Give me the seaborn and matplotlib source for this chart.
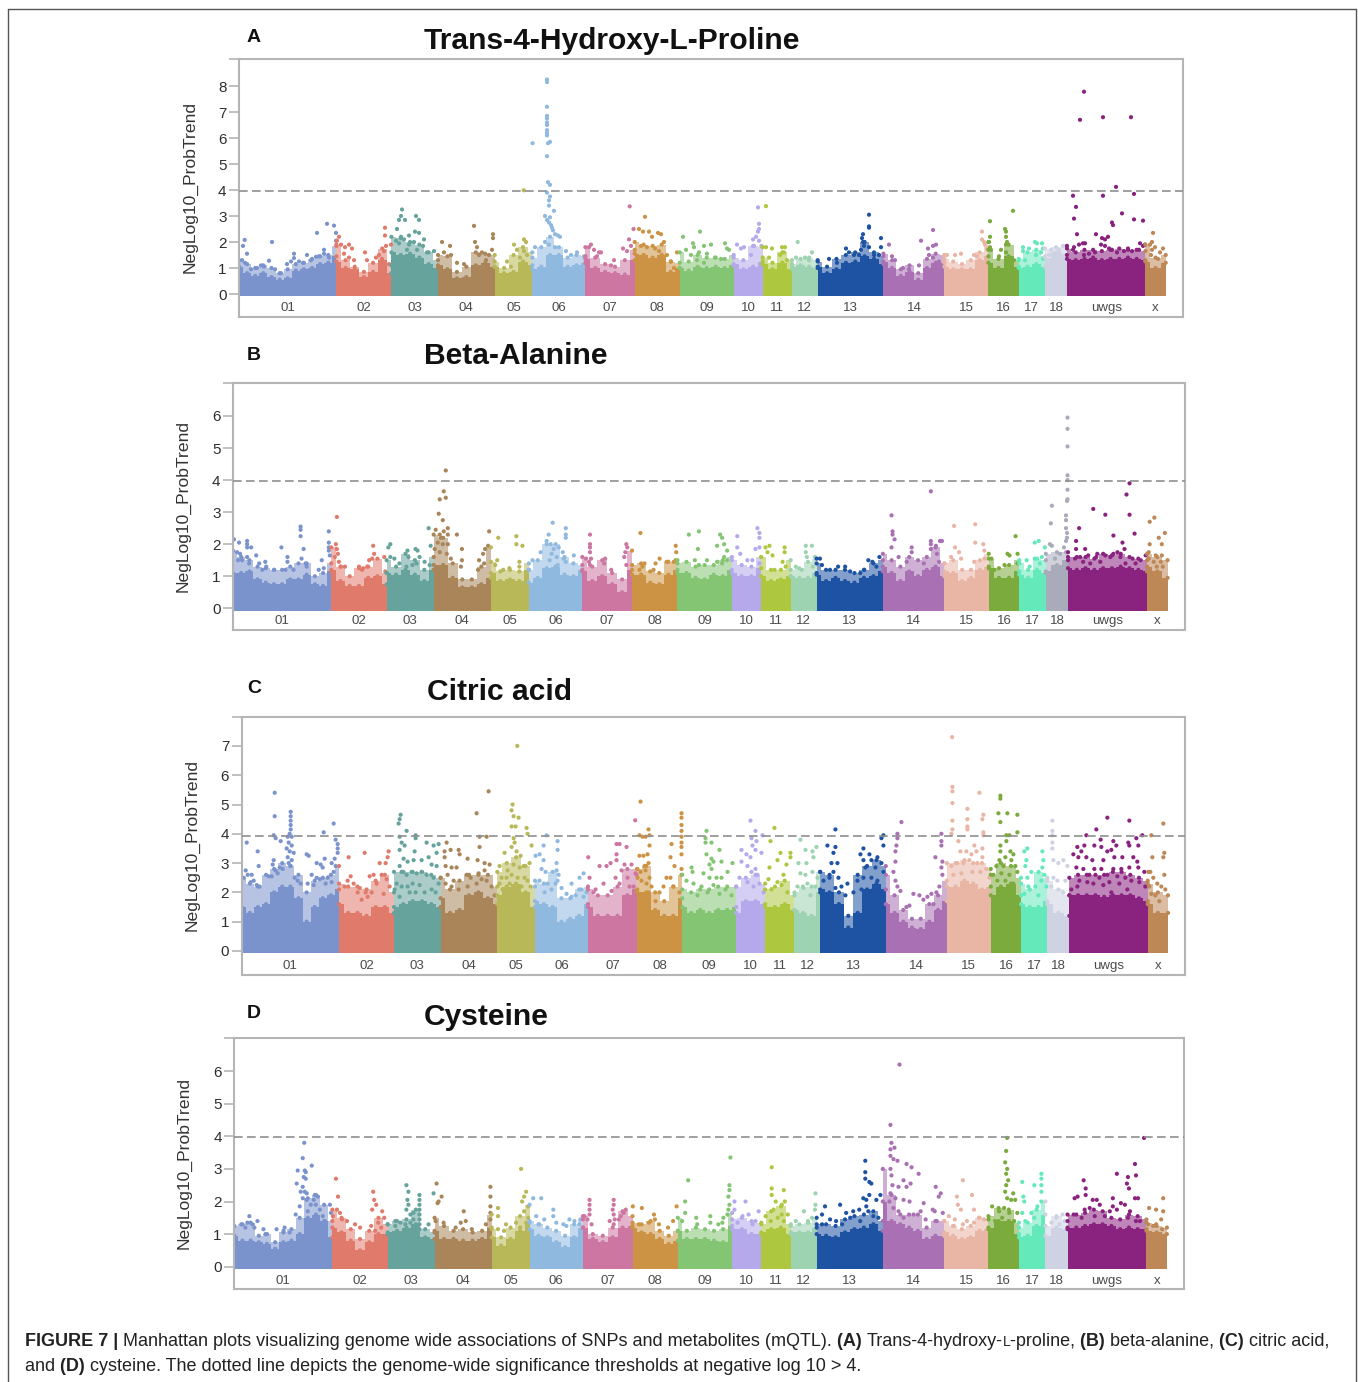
import numpy as np
import pandas as pd
import matplotlib
matplotlib.use("Agg")
import matplotlib.pyplot as plt
from matplotlib.lines import Line2D
import seaborn as sns

sns.set_theme(style="white")
plt.rcParams['font.family'] = ['Liberation Sans', 'DejaVu Sans']

W, H = 1358, 1382
chroms = ["01","02","03","04","05","06","07","08","09","10","11","12","13","14","15","16","17","18","uwgs","x"]
chrom_starts = [0,97.4,152.4,199,255.7,293.4,346.4,395.7,440.7,494.7,523.7,553,578.7,644.4,705.4,749.4,779.7,806,828,906.4]
genome_end = 926.7
base_colors = ["#7b93cc","#e07b6c","#66a39d","#a98559","#b8b858","#90b9e0","#cc76a1","#cc9344","#84c573","#b5a9ec",
               "#adc73f","#9dd3b1","#1e53a4","#a970b3","#e9b5a5","#7aab3c","#64e9bb","#cfd2e3","#8a2380","#bd8756"]

# Height of the solid mass of SNPs along each chromosome
A_env = [[1.05,0.8,0.7,0.8,0.65,0.55,0.6,0.9,0.95,1.0,1.15,1.2,1.45],[1.25,1.0,0.95,0.65,0.85,1.3,0.8],[1.6,1.5,1.55,1.4,1.15,1.0],
 [1.1,0.95,0.6,0.65,1.1,1.2,1.05],[1.05,0.8,0.85,1.25,1.1],[0.95,1.05,1.5,1.5,1.05,1.1,1.2],[1.35,1.0,0.85,0.8,0.75,1.3],
 [1.55,1.5,1.4,1.5,0.85,1.0],[1.0,0.9,1.05,1.0,1.05,1.0,1.1],[1.15,0.95,1.05,1.25],[1.15,0.95,1.2,0.95],[1.05,1.1,1.05,1.0],
 [1.05,0.8,0.95,1.2,1.25,1.45,1.35,1.15],[1.25,1.0,0.7,0.85,0.55,1.0,1.2,1.2],[1.05,0.95,0.95,0.95,1.3,1.45],[1.2,1.0,1.45,1.05],
 [1.0,1.05,1.15,1.05],[1.4,1.6,1.5],[1.35,1.3,1.35,1.4,1.3,1.35,1.35,1.4,1.35,1.3],[1.25,1.0,1.2]]
B_env = [[1.1,1.1,1.15,0.9,0.8,0.75,0.75,0.9,0.9,1.05,0.75,0.7,1.15],[1.2,0.85,0.7,0.7,0.95,1.0,0.75],[1.1,1.05,1.2,1.05,0.85,1.2],
 [1.35,1.35,0.95,0.65,0.65,0.75,0.95],[1.1,0.85,0.9,0.85,1.2],[0.8,0.95,1.25,1.3,1.05,1.0,1.2],[1.15,0.85,1.0,0.75,0.5,1.2],
 [1.05,1.05,0.8,0.75,1.05,1.2],[1.1,1.1,0.95,0.9,1.05,1.0,1.2],[1.1,1.0,1.0,1.25],[1.0,0.85,0.9,1.0],[1.0,0.95,0.95,1.1],
 [1.05,0.85,0.95,0.85,0.8,0.95,1.0,1.15],[1.3,1.1,0.85,1.15,1.0,1.2,1.3,1.0],[1.15,1.1,0.85,0.95,1.2,1.3],[1.25,0.95,0.95,1.15],
 [1.05,0.95,1.2,1.1],[1.15,1.35,1.5],[1.25,1.2,1.25,1.2,1.25,1.25,1.3,1.25,1.2,1.15],[1.3,1.15,0.95]]
C_env = [[1.5,1.3,1.5,1.6,2.0,2.2,2.2,1.8,1.0,1.5,1.8,1.9,2.1],[1.6,1.3,1.3,1.2,1.5,1.5,1.3],[1.5,1.6,1.7,1.7,1.6,1.5],
 [1.8,1.3,1.4,1.9,2.0,1.8,1.6],[1.9,2.2,2.3,2.0,1.5],[1.7,1.6,1.5,1.0,1.1,1.2,1.6],[1.5,1.2,1.2,1.2,1.9,2.1],
 [2.0,2.0,1.4,1.2,1.2,1.8],[1.5,1.3,1.4,1.3,1.4,1.4,1.5],[1.3,1.7,1.7,1.6],[1.5,1.5,1.6,1.4],[1.4,1.3,1.2,2.0],
 [2.1,2.0,1.6,0.8,1.3,2.1,2.3,2.1],[1.6,1.3,1.0,0.8,0.75,1.0,1.4,1.7],[2.2,2.2,2.4,2.3,2.1,2.2],[1.9,2.2,2.3,1.9],
 [1.6,1.5,1.5,1.7],[1.6,1.3,1.2],[1.9,1.9,1.9,1.9,1.85,1.9,1.9,1.9,1.8,1.7],[1.6,1.3,1.3]]
D_env = [[0.95,0.8,0.8,0.75,0.7,0.55,0.75,0.8,1.0,1.5,1.6,1.4,0.9],[1.2,1.05,0.8,0.5,0.75,1.0,1.0],[1.05,1.1,1.2,1.3,0.9,0.85],
 [1.1,0.85,0.85,0.8,0.8,0.85,1.2],[0.9,0.65,0.85,1.1,1.35],[1.15,0.95,0.9,0.75,0.6,0.9,1.2],[1.2,0.85,0.75,0.9,1.2,1.25],
 [1.2,1.05,1.0,0.85,0.7,0.8],[1.1,0.85,0.85,0.85,0.8,0.75,1.25],[1.15,1.15,1.0,1.0],[1.05,1.15,1.2,1.0],[1.05,1.05,1.05,1.2],
 [1.0,0.95,0.9,1.05,1.15,1.2,1.3,1.1],[2.0,1.4,1.3,1.2,1.1,0.85,0.95,0.95],[1.05,0.95,0.85,0.9,1.1,1.15],[1.2,1.4,1.4,1.0],
 [0.9,0.95,1.25,1.6],[0.95,1.2,1.15],[1.2,1.2,1.25,1.3,1.3,1.25,1.15,1.2,1.15,1.15],[1.1,1.05,1.0]]

# Top of the speckled zone above the solid mass
A_up = [[1.3,1.15,1.0,1.1,1.0,0.8,0.95,1.15,1.2,1.35,1.45,1.5,1.85],[1.9,1.3,1.05,0.85,1.2,1.75,1.1],[2.2,2.15,2.0,1.9,1.6,1.3],
 [1.5,1.45,0.85,1.05,1.6,1.55,1.5],[1.25,1.0,1.5,1.8,1.6],[1.4,1.8,2.2,1.8,1.4,1.5,1.45],[1.8,1.4,1.15,1.05,1.3,1.7],
 [2.0,1.9,1.85,1.9,1.25,1.2],[1.6,1.25,1.5,1.4,1.4,1.35,1.5],[1.4,1.3,1.85,1.8],[1.4,1.2,1.6,1.3],[1.15,1.35,1.4,1.3],
 [1.25,1.05,1.35,1.5,1.6,2.0,1.6,1.45],[1.55,1.3,0.95,1.1,0.8,1.35,1.55,1.5],[1.35,1.25,1.15,1.3,1.6,2.0],[1.7,1.35,1.9,1.3],
 [1.35,1.6,1.7,1.45],[1.75,1.8,1.85],[1.75,1.6,1.7,1.7,1.65,1.7,1.75,1.7,1.7,1.65],[1.9,1.4,1.5]]
B_up = [[1.8,1.6,1.5,1.3,1.25,1.2,1.2,1.3,1.4,1.4,1.0,1.1,1.4],[1.9,1.3,1.0,1.25,1.3,1.55,1.1],[1.5,1.3,1.7,1.5,1.2,1.6],
 [2.3,2.2,1.4,0.9,0.9,1.3,1.9],[1.45,1.15,1.2,1.15,1.4],[1.2,1.5,2.0,2.0,1.6,1.4,1.35],[1.6,1.3,1.5,1.1,0.9,1.8],
 [1.35,1.4,1.15,1.1,1.45,1.5],[1.4,1.45,1.3,1.35,1.35,1.5,1.6],[1.5,1.35,1.3,1.6],[1.6,1.2,1.2,1.5],[1.2,1.25,1.45,1.55],
 [1.4,1.2,1.2,1.2,1.1,1.2,1.4,1.5],[1.7,1.5,1.3,1.6,1.5,1.6,1.9,1.4],[1.4,1.5,1.2,1.2,1.5,1.7],[1.55,1.25,1.35,1.5],
 [1.4,1.2,1.55,1.5],[1.7,1.75,1.75],[1.6,1.6,1.6,1.55,1.7,1.65,1.7,1.6,1.55,1.5],[1.7,1.6,1.5]]
C_up = [[2.5,2.3,2.2,2.6,2.8,3.0,2.9,2.6,2.0,2.4,2.5,2.6,2.9],[2.3,2.2,2.2,2.1,2.4,2.6,2.0],[2.7,2.7,2.7,2.7,2.6,2.5],
 [2.5,2.1,2.4,2.6,2.6,2.6,2.2],[2.7,3.0,3.2,2.9,2.2],[2.4,2.3,2.7,1.8,1.8,2.1,2.2],[2.1,1.9,1.9,2.2,2.8,2.8],
 [2.8,2.9,2.0,1.7,2.2,2.6],[2.1,2.0,2.1,2.1,2.2,2.2,2.2],[2.2,2.5,2.6,2.3],[2.1,2.2,2.4,1.9],[2.0,2.2,2.2,2.7],
 [2.7,2.6,2.0,1.2,2.6,2.9,3.1,2.9],[2.6,1.9,1.4,1.1,1.1,1.6,1.9,2.4],[3.0,3.0,3.1,3.0,3.0,2.8],[2.6,3.0,2.9,2.5],
 [2.3,2.1,2.7,2.5],[2.4,2.1,1.9],[2.5,2.6,2.6,2.6,2.6,2.7,2.7,2.6,2.5,2.4],[2.3,2.0,1.9]]
D_up = [[1.25,1.3,1.35,0.95,1.0,0.75,1.05,1.15,1.5,2.1,2.2,1.9,1.4],[1.75,1.5,1.15,0.85,1.1,1.5,1.3],[1.3,1.4,1.45,1.75,1.15,1.05],
 [1.5,1.25,1.1,1.15,1.05,1.1,1.6],[1.15,0.9,1.2,1.55,1.9],[1.4,1.3,1.2,1.1,0.95,1.3,1.45],[1.55,1.0,0.95,1.2,1.7,1.55],
 [1.35,1.3,1.4,1.1,0.95,1.1],[1.5,1.1,1.2,1.15,1.1,1.15,1.65],[1.45,1.5,1.4,1.35],[1.3,1.7,1.85,1.3],[1.25,1.3,1.35,1.5],
 [1.3,1.3,1.25,1.45,1.55,1.6,1.7,1.4],[3.0,2.2,1.6,1.6,1.6,1.2,1.4,1.4],[1.4,1.25,1.15,1.25,1.5,1.45],[1.55,1.8,1.75,1.35],
 [1.2,1.35,1.75,2.0],[1.25,1.55,1.4],[1.6,1.6,1.65,1.75,1.7,1.5,1.45,1.6,1.55,1.45],[1.35,1.25,1.2]]

# Individual SNPs above the solid mass: (genome position, -log10 p)
A_pts = [(5.7,2.08),(4,1.85),(8,1.55),(33,2.0),(30,1.28),(55,1.55),(55,1.38),(68,1.5),(78,2.35),(88,2.7),(95,2.63),(97,2.35),(97,2.05),(85,1.7),(85,1.55),(77,1.43),(3,1.3),(22,1.1),(25,1.05),(48,1.15),(52,1.25),(60,1.25),(64,1.2),(72,1.3),(80,1.45),(90,1.4),(6,1.2),(12,0.95),(18,1.0),(36,0.95),(42,0.8),
 (100,2.2),(98,2.05),(102,1.9),(106,1.8),(110,1.9),(113,1.75),(105,1.55),(110,1.4),(115,1.3),(126,1.6),(128,1.3),(146,2.55),(146,2.25),(147,1.85),(140,1.5),(143,1.35),(150,1.15),(137,1.4),(145,1.65),(152,1.9),
 (158,2.5),(160,2.85),(166,2.85),(162,3.0),(163,3.25),(177,3.0),(180,2.85),(176,2.4),(180,2.35),(162,2.2),(165,2.1),(170,2.25),(157,2.05),(160,1.95),(170,1.9),(175,2.0),(185,2.1),(184,1.85),(188,1.6),(195,1.65),(168,1.7),(178,1.7),
 (203,2.0),(211,1.85),(235,2.62),(236,2.0),(254,2.3),(254,2.15),(238,1.8),(243,1.6),(250,1.5),(205,1.6),(212,1.5),(218,1.2),(225,1.15),(247,1.3),(240,1.5),(253,1.7),
 (275,1.9),(285,2.1),(287,2.0),(268,1.25),(278,1.7),(285,1.65),(272,1.05),(284.7,3.99),(288,1.5),(281,1.4),
 (293.6,5.8),(308,8.25),(308,8.15),(308,7.2),(308,6.85),(308,6.75),(308,6.6),(308,6.5),(308,6.3),(308,6.2),(308,6.1),(311,5.85),(309,5.8),(308,5.3),(309,4.3),(311,4.2),(308,3.9),(311,3.75),(310,3.6),(310,3.4),(315,3.2),(306,3.0),(311,2.95),(308,2.85),(310,2.75),(312,2.65),(313,2.55),(314,2.45),(316,2.3),(319,2.25),(321,2.2),(306,2.0),(310,1.9),(316,1.8),(296,1.8),(327,1.65),(338,1.6),(332,1.5),(345,1.45),
 (352,1.9),(350,1.8),(355,1.7),(360,1.6),(362,1.6),(358,1.45),(390.7,3.37),(394.5,2.5),(390,2.1),(388,1.65),(392,1.85),(384,1.75),(375,1.3),(372,1.1),
 (406,2.97),(400,2.5),(404,2.4),(410,2.4),(413,2.2),(419,2.35),(422,2.3),(425,2.0),(402,1.85),(408,1.8),(416,1.75),(420,1.65),(428,1.5),(432,1.25),(435,1.0),(438,1.6),
 (461,2.4),(444,2.2),(454,1.95),(455,1.8),(447,1.7),(465,1.85),(472,1.9),(486,1.95),(488,1.75),(490,1.7),(460,1.6),(468,1.55),(476,1.4),(482,1.35),(452,1.5),(458,1.3),(465,1.2),
 (519,3.33),(520,2.7),(520,2.5),(519,2.4),(517,2.2),(514,2.1),(520,2.05),(515,1.85),(505,1.8),(498,1.9),(502,1.75),(512,1.5),(522.5,1.85),
 (527,3.38),(527,1.8),(533,1.75),(546,1.8),(543,1.8),(545,1.6),(541,1.5),(548,1.3),(530,1.4),
 (558.7,2.0),(573,1.6),(557,1.4),(566,1.4),(570,1.3),
 (630,3.05),(630,2.6),(630,2.55),(642,2.15),(624,2.3),(623,2.15),(624,2.0),(625,1.85),(622,1.7),(630,1.8),(642,1.8),(607,1.75),(610,1.6),(620,1.5),(635,1.5),(640,1.5),(590,1.35),(598,1.2),(615,1.5),
 (650,1.9),(694,2.46),(682,2.05),(689,1.75),(694,1.85),(697,1.9),(690,1.5),(694,1.4),(653,1.45),(656,1.3),(664,1.0),(670,0.95),(680,1.1),(700,1.25),
 (743,2.4),(743,2.1),(745,2.0),(746,1.9),(748,1.75),(735,1.5),(738,1.45),(722,1.55),(708,1.5),(716,1.5),
 (751,2.8),(774,3.2),(751,2.2),(750,2.0),(751,1.8),(766,2.5),(767,2.4),(767,2.2),(768,2.0),(767,1.9),(762,1.7),(767,1.6),(760,1.45),(752,1.7),(775,1.3),
 (784,1.8),(784,1.65),(796,2.0),(798,1.95),(803,1.95),(804,1.75),(790,1.75),(802,1.6),(797,1.5),(804,1.35),(786,1.3),
 (812,1.7),(816,1.55),(824,1.85),(827,1.85),(820,1.7),(810,1.5),(826,1.5),
 (845,7.78),(841,6.7),(864,6.8),(892,6.8),(877,4.12),(834,3.78),(864,3.78),(895,3.85),(837,3.35),(883,3.1),(835,2.9),(895,2.87),(904,2.82),(873,2.75),(874,2.65),(838,2.3),(857,2.3),(869,2.2),(863,2.15),(866,2.1),(844,1.95),(846,1.95),(840,1.9),(835,1.8),(834,1.7),(862,1.9),(866,1.85),(870,1.75),(873,1.7),(885,1.65),(889,1.75),(893,1.65),(901,1.95),(904,1.85),(906,1.9),(900,1.7),(878,1.6),(850,1.55),(856,1.6),(845,1.5),
 (914,2.35),(913,2.0),(911,1.9),(913,1.7),(916,1.8),(912,1.5),(924,1.75),(921,1.6),(919,1.35)]

B_pts = [(1,2.15),(6,2.05),(14,2.1),(14,2.0),(14,1.9),(18,1.9),(23,1.65),(4,1.75),(7,1.7),(5,1.5),(9,1.5),(14,1.6),(16,1.4),(26,1.4),(32,1.45),(33,1.3),(29,1.2),(41,1.2),(48,1.9),(54,1.6),(54,1.45),(67,2.55),(67,2.45),(67,2.25),(70,1.85),(68,1.55),(72,1.4),(73,1.3),(88,1.5),(95,2.4),(95,2.05),(95,1.9),(95,1.8),(96,1.65),(85,1.2),(90,1.25),(60,1.2),(52,1.2),
 (103,2.85),(102,2.0),(103,1.85),(104,1.7),(101,1.6),(105,1.45),(107,1.3),(111,1.3),(125,1.3),(128,1.2),(139,1.95),(140,1.7),(138,1.55),(135,1.5),(133,1.3),(129,1.25),(150,1.6),(151,1.15),
 (156,2.0),(154,1.9),(156,1.6),(160,1.55),(165,1.4),(173,1.8),(174,1.6),(181,1.85),(183,1.8),(185,1.6),(194,2.5),(196,1.95),(190,1.45),(195,1.35),(172,1.3),(178,1.35),(182,1.4),
 (211,4.3),(209,3.65),(205,3.4),(211,3.45),(204,2.95),(208,2.75),(201,2.45),(205,2.3),(209,2.4),(213,2.5),(206,2.2),(213,2.3),(222,2.3),(227,1.85),(203,2.05),(208,2.0),(213,2.0),(200,1.85),(205,1.75),(212,1.7),(216,1.55),(227,1.5),(226,1.3),(254,2.4),(253,1.95),(250,1.85),(248,1.7),(244,1.5),(249,1.4),(243,1.2),
 (262,1.5),(260,1.35),(268,1.2),(274,1.25),(281,2.25),(281,2.0),(287,1.95),(284,1.45),(284,1.3),(263,2.2),
 (317,2.67),(313,2.3),(330,2.5),(330,2.3),(330,2.2),(311,2.1),(315,2.0),(318,1.85),(323,1.9),(316,1.7),(305,1.75),(297,1.5),(321,1.6),(314,1.5),(327,1.75),(328,1.55),(338,1.65),(330,1.45),(322,1.35),
 (354,2.3),(354,2.0),(354,1.9),(354,1.75),(350,1.55),(355,1.55),(353,1.45),(354,1.35),(369,1.55),(368,1.4),(375,1.2),(390,2.0),(391,1.9),(389,1.75),(388,1.6),(390,1.35),
 (404,2.35),(406,1.3),(408,1.4),(419,1.4),(423,1.55),(430,1.45),(437,1.45),(439,1.95),(439.5,1.75),(439,1.5),(417,1.2),(403,1.2),
 (452,2.3),(462,2.4),(461,1.85),(480,1.95),(483,2.3),(485,2.2),(487,2.0),(490,1.8),(487,1.6),(490,1.5),(458,1.5),(470,1.5),(480,1.45),(485,1.4),(462,1.35),
 (500,2.25),(500,1.9),(503,1.7),(510,1.5),(520,2.5),(522,2.35),(522,2.2),(518,1.85),(522,1.9),(515,1.5),(522,1.4),
 (528,1.9),(532,1.95),(530,1.75),(535,1.65),(547,1.9),(547,1.75),(545,1.45),(548,1.3),(537,1.2),
 (568,1.95),(574,1.95),(568,1.75),(569,1.6),(558,1.3),(575,1.3),(577,1.6),(564,1.2),
 (582,1.55),(584,1.35),(592,1.2),(600,1.3),(607,1.3),(612,1.15),(622,1.1),(630,1.5),(634,1.45),(641,1.6),(638,1.3),(626,1.2),
 (653,2.9),(654,2.4),(654,2.3),(656,2.15),(653,1.9),(673,1.9),(673,1.75),(692,3.65),(692,2.1),(692,2.0),(692,1.85),(697,1.95),(701,2.1),(703,2.1),(698,1.7),(660,1.6),(668,1.45),(685,1.4),(700,1.45),
 (715,2.57),(736,2.62),(736,2.05),(744,2.0),(745,1.8),(716,1.9),(720,1.75),(712,1.6),(722,1.55),(735,1.45),(745,1.55),
 (776,2.25),(768,1.7),(770,1.65),(778,1.7),(752,1.55),(765,1.35),(778,1.4),(755,1.2),
 (795,2.05),(799,2.1),(787,1.5),(795,1.55),(802,1.6),(790,1.3),(805,1.9),(800,1.4),
 (827.5,5.95),(827.5,5.6),(827.5,5.05),(827.5,4.15),(827.5,4.0),(827.5,3.7),(827,3.35),(827.5,3.4),(826,2.9),(826,2.75),(826,2.5),(827,2.35),(826,2.1),(827,2.2),(812,3.2),(811,2.65),(812,1.95),(824,1.9),(820,1.7),(815,1.55),(826,1.75),(810,2.0),
 (889,3.9),(886,3.55),(853,3.1),(865,2.92),(889,2.92),(839,2.5),(873,2.27),(894,2.33),(836,2.1),(882,2.05),(836,1.85),(845,1.85),(884,1.85),(877,1.75),(873,1.7),(857,1.7),(848,1.65),(856,1.6),(840,1.6),(865,1.65),(870,1.6),(880,1.6),(892,1.55),(900,1.5),(905,1.65),(835,1.55),(843,1.45),(860,1.45),(895,1.4),(850,1.4),(885,1.4),
 (913.6,2.83),(909,2.7),(924,2.35),(918,2.2),(921,2.0),(909,2.0),(908,1.75),(915,1.65),(921,1.65),(908,1.55),(920,1.45),(916,1.3),(922,1.3),(913,1.45)]

C_pts = [(5,3.7),(16,3.4),(17,2.9),(33,5.4),(33,4.6),(32,3.95),(34,3.85),(49,4.75),(49,4.6),(49,4.45),(49,4.3),(49,4.15),(48,4.0),(46,3.9),(50,3.9),(39,3.75),(47,3.7),(50,3.6),(45,3.5),(48,3.4),(52,3.35),(46,3.2),(50,3.1),(47,3.0),(49,2.9),(32,3.1),(31,2.95),(34,2.75),(41,2.8),(38,2.85),(36,2.65),(30,2.55),(27,2.55),(2,2.5),(4,2.75),(6,2.6),(10,2.6),(12,2.4),(9,2.35),(15,2.25),(18,2.2),(53,2.5),(56,2.4),(59,2.3),(65,3.3),(67,3.25),(82,4.05),(92,4.35),(94,3.8),(96,3.65),(96,3.5),(96,3.35),(93,3.15),(90,3.0),(94,2.9),(92,2.7),(79,2.95),(75,3.0),(83,3.15),(81,2.85),(70,2.6),(75,2.5),(66,2.3),(72,2.25),(78,2.45),(86,2.5),(90,2.35),(84,2.3),
 (107,3.2),(123,3.35),(147,3.4),(146,3.2),(144,3.0),(138,3.0),(109,2.55),(106,2.4),(112,2.3),(118,2.15),(124,2.0),(128,2.55),(132,2.6),(140,2.6),(145,2.45),(148,2.2),(135,2.3),(103,2.2),(116,2.0),(130,2.0),(142,1.95),(126,1.85),(120,1.75),
 (159,4.65),(158,4.5),(157,4.35),(165,4.1),(174,3.95),(174,3.85),(158,3.9),(160,3.7),(163,3.6),(158,3.45),(173,3.4),(185,3.7),(192,3.6),(197,3.65),(195,3.35),(162,3.15),(166,3.05),(172,3.1),(180,3.1),(187,3.2),(190,2.95),(195,2.9),(158,2.9),(160,2.7),(165,2.6),(170,2.7),(175,2.65),(180,2.7),(185,2.6),(192,2.5),(197,2.3),(155,2.3),(160,2.2),(166,2.2),(171,2.3),(178,2.25),(183,2.0),(190,2.1),(194,2.0),(168,2.0),(174,2.0),(158,1.85),(153,2.1),
 (235,4.7),(247,5.45),(238,3.9),(245,3.9),(238,3.55),(205,3.7),(203,3.4),(209,3.45),(217,3.45),(218,3.3),(226,3.15),(236,3.1),(243,3.0),(248,2.95),(243,2.75),(203,3.2),(204,2.9),(210,2.85),(215,2.85),(206,2.6),(212,2.4),(225,2.6),(229,2.5),(237,2.65),(240,2.45),(245,2.4),(210,2.2),(217,2.1),(226,2.2),(235,2.3),(250,2.2),(253,1.9),(204,2.3),
 (275.7,7.0),(271,5.0),(270,4.8),(272,4.6),(277,4.55),(270,4.25),(274,4.25),(285,4.2),(286,4.0),(272,3.85),(273,3.7),(270,3.55),(263,3.35),(275,3.4),(279,3.25),(290,3.6),(288,3.0),(258,2.9),(266,2.75),(272,2.95),(278,2.85),(282,2.9),(260,2.5),(265,2.5),(270,2.6),(276,2.5),(283,2.5),(286,2.4),(258,2.3),(268,2.3),(280,2.2),(289,2.2),(274,2.2),(261,2.1),
 (305,3.95),(302,3.6),(316,3.75),(316,3.45),(298,3.3),(302,3.1),(315,3.0),(294,3.25),(300,2.8),(304,2.7),(315,2.75),(317,2.6),(316,2.4),(298,2.4),(306,2.3),(314,2.3),(320,2.15),(330,2.3),(342,2.65),(338,2.5),(334,1.9),(345,2.0),(325,1.95),(330,1.85),(310,2.1),(340,2.1),(342,1.85),(303,2.0),
 (346.7,3.2),(348,2.5),(352,2.0),(358,2.9),(365,2.9),(369,3.0),(375,3.65),(378,3.65),(375,3.3),(385,3.55),(375,3.1),(383,2.95),(390,2.95),(394,2.65),(380,2.75),(374,2.5),(386,2.5),(392,2.2),(362,2.3),(354,2.1),(370,2.05),(378,2.3),(388,2.2),(395,2.6),(393.7,4.46),
 (399,5.1),(398,3.95),(401,3.9),(407,4.15),(408,3.95),(404,3.9),(408,3.6),(398,3.25),(402,3.25),(406,3.3),(407,3.0),(403,2.9),(399,2.7),(404,2.75),(396,2.5),(408,2.5),(400,2.4),(405,2.3),(410,2.2),(407,2.0),(430,3.65),(429,3.2),(433,2.9),(429,2.5),(425,2.5),(422,2.2),(418,2.0),(414,1.7),(432,2.2),(438,2.0),(440,4.7),(440,4.55),(440,4.3),(440,4.1),(440,3.9),(440,3.7),(440,3.55),(440,3.3),(440,2.8),(440,2.6),
 (465,4.1),(464,3.85),(464,3.7),(470,3.7),(478,3.45),(465,3.3),(470,3.15),(472,3.05),(468,2.95),(470,2.8),(480,3.05),(491,3.0),(450,2.85),(451,2.7),(462,2.65),(468,2.5),(486,2.7),(475,2.5),(480,2.5),(452,2.3),(460,2.2),(472,2.25),(484,2.1),(445,2.4),(490,1.9),(466,2.0),(478,1.95),(456,1.9),
 (509,4.45),(514,4.1),(515,3.75),(510,3.85),(511,3.6),(514,3.45),(500,3.45),(509,3.2),(505,3.3),(520,3.35),(521,3.95),(500,3.05),(506,2.9),(510,2.7),(514,2.8),(516,2.6),(498,2.5),(506,2.35),(512,2.2),(518,2.3),(522,2.0),
 (533,4.2),(529,3.75),(539,3.35),(536,3.1),(549,3.35),(549,3.2),(545,2.95),(528,2.85),(542,2.6),(527,2.45),(536,2.35),(540,2.25),(530,2.1),(546,2.0),
 (559,3.8),(564,3.45),(575,3.55),(571,3.4),(572,3.2),(565,3.0),(557,3.0),(559,2.65),(564,2.6),(571,2.7),(576,2.5),(556,2.2),(562,2.15),(566,2.3),(574,2.2),(569,1.9),
 (594,4.15),(586,3.6),(594,3.55),(592,3.35),(622,3.5),(642,3.95),(640,3.85),(642,3.6),(596,3.0),(590,3.0),(619,3.3),(622,3.1),(628,3.3),(630,3.1),(636,3.2),(640,3.0),(624,2.85),(634,2.85),(642,2.7),(592,2.7),(588,2.5),(597,2.5),(582,2.4),(600,2.2),(606,2.3),(616,2.4),(622,2.5),(630,2.5),(636,2.4),(594,2.15),(604,1.9),(612,2.0),(620,2.1),(626,2.0),(632,2.1),
 (660,4.4),(656,4.0),(656,3.85),(655,3.6),(654,3.4),(654,3.05),(652,2.7),(654,2.4),(656,2.2),(659,2.05),(700,4.0),(700,3.75),(700,3.6),(694,3.2),(701,3.05),(700,2.85),(701,2.6),(698,2.2),(695,2.0),(690,1.95),(686,1.85),(672,1.95),(678,1.9),(682,1.75),(665,1.5),(668,1.55),(692,1.6),
 (710.7,7.3),(711,5.6),(711,5.45),(738,5.4),(726,4.85),(711,5.05),(711,4.45),(726,4.5),(726,4.25),(742,4.65),(741,4.5),(711,4.15),(710,4.0),(726,4.15),(742,4.05),(742,3.95),(717,3.75),(733,3.6),(725,3.4),(719,3.4),(730,3.3),(735,3.4),(741,3.5),(741,3.2),(710,2.9),(716,3.0),(722,3.0),(728,3.1),(736,3.0),(745,2.8),(712,2.6),(720,2.65),(731,2.7),(739,2.7),(748,2.5),
 (759,5.3),(759,5.2),(757,4.7),(766,4.7),(776,4.65),(759,4.4),(776,4.05),(765,3.95),(768,3.95),(765,3.75),(759,3.6),(759,3.4),(769,3.4),(772,3.3),(758,3.1),(764,3.2),(770,3.1),(755,2.9),(762,2.9),(774,2.9),(752,2.6),(760,2.65),(768,2.6),(776,2.7),(756,2.4),(764,2.4),(772,2.3),
 (783,3.4),(786,3.5),(801,3.4),(785,3.1),(784,2.9),(802,3.1),(801,2.85),(790,2.7),(803,2.6),(786,2.5),(794,2.2),(800,2.4),(787,2.2),(805,2.2),(783,1.95),(797,1.9),
 (811,4.45),(811,4.1),(811,3.95),(811,3.7),(811,3.5),(822,3.1),(817,3.0),(812,3.1),(826,2.9),(812,2.5),(816,2.4),(824,2.4),(810,2.2),(822,2.0),
 (866,4.55),(888,4.45),(855,4.15),(845,3.95),(859.3,3.8),(872,3.75),(853,3.6),(843,3.6),(836,3.55),(875,3.6),(888,3.6),(897,3.6),(901,3.95),(895,3.85),(887,3.7),(860,3.55),(866,3.4),(870,3.45),(832,3.3),(840,3.4),(845,3.2),(837,3.2),(851,3.1),(862,3.1),(873,3.2),(881,3.2),(892,3.2),(896,3.05),(835,2.85),(842,2.8),(853,2.8),(860,2.8),(872,2.8),(880,2.8),(888,2.85),(897,2.85),(903,2.7),(848,2.6),(866,2.6),(876,2.55),(884,2.5),(858,2.5),(838,2.4),(846,2.35),(852,2.3),(868,2.35),(878,2.3),(890,2.4),(898,2.35),(904,2.2),(836,2.2),(862,2.25),(886,2.1),(870,2.0),(830,2.1),
 (922,4.35),(910,3.95),(923,3.35),(922,3.2),(911,3.2),(909,2.7),(923,2.6),(907,2.7),(912,2.5),(916,2.3),(920,2.2),(924,2.1),(908,2.2),(914,1.9),(910,1.95),(918,1.7)]

D_pts = [(69.5,3.8),(68,3.33),(77,3.1),(63,2.95),(70,2.95),(71,2.9),(71,2.7),(69,2.75),(62,2.55),(68,2.45),(70,2.3),(66,2.3),(72,2.25),(80,2.2),(83,2.15),(79,2.05),(68,2.1),(72,2.05),(76,1.9),(81,1.9),(85,1.75),(95,1.9),(96,1.65),(65,1.85),(73,1.7),(61,1.6),(88,1.55),(90,1.4),(15,1.55),(23,1.4),(7,1.3),(13,1.35),(18,1.3),(11,1.2),(20,1.2),(29,1.15),(31,1.0),(42,1.15),(50,1.2),(49,1.1),(55,1.05),
 (101,2.7),(103,2.15),(138,2.3),(139,2.05),(141,1.9),(137,1.75),(147,1.7),(149,1.5),(102,1.75),(105,1.65),(98,1.55),(107,1.45),(112,1.4),(120,1.3),(125,1.2),(143,1.35),(136,1.25),(146,1.2),(140,1.1),
 (171,2.5),(173,2.3),(172,2.05),(173,1.9),(171,1.75),(178,1.65),(184,2.2),(184,2.05),(184,1.9),(184,1.75),(184,1.6),(184,1.45),(184,1.3),(184,1.15),(198,2.25),(175,1.6),(178,1.45),(175,1.35),(160,1.4),(165,1.35),(170,1.3),(193,1.3),(160,1.25),
 (201,2.55),(202,1.95),(203,2.0),(206,2.15),(228,1.7),(200,1.4),(208,1.35),(225,1.35),(230,1.4),(250,1.3),(254.5,1.45),(254.5,1.65),(254.5,1.85),(254.5,2.15),(254.5,2.45),(220,1.2),(236,1.15),
 (262,1.8),(262,1.55),(285,3.0),(290,2.3),(288,2.15),(286,2.0),(292,1.85),(270,1.3),(280,1.35),(288,1.7),(292,1.5),(290,1.35),(284,1.2),(262,1.15),(268,1.1),
 (297,2.1),(305,2.1),(317,1.75),(317,1.55),(320,1.35),(300,1.55),(308,1.45),(303,1.3),(333,1.45),(338,1.4),(344,1.45),(327,1.3),(330,1.25),(343,1.3),
 (353,2.05),(353,1.9),(353,1.75),(353,1.6),(348,1.55),(355,1.3),(351,1.45),(377,2.05),(377,1.9),(376,1.75),(377,1.6),(378,1.45),(377,1.3),(389,1.75),(387,1.65),(384,1.55),(382,1.45),(373,1.4),
 (396,1.85),(405,1.8),(417,1.6),(418,1.45),(402,1.3),(412,1.35),(422,1.3),(436,1.4),(439.5,1.85),(431,1.2),
 (451,2.65),(448,2.0),(493,3.35),(492,2.5),(492,2.35),(491,2.15),(492,1.9),(491,1.75),(490,1.6),(486,1.5),(485,1.35),(448,1.65),(459,1.5),(473,1.55),(460,1.3),(473,1.35),(481,1.3),(445,1.4),
 (497,2.0),(508,2.0),(497,1.75),(521,1.7),(505,1.55),(511,1.6),(518,1.4),(500,1.35),(515,1.3),
 (534,3.05),(534,2.4),(546,2.35),(534,2.2),(538,2.0),(547,2.0),(544,1.9),(528,1.55),(536,1.75),(544,1.6),(550,1.6),(540,1.5),(533,1.4),(546,1.4),
 (577.5,2.25),(577.5,1.9),(566,1.7),(577,1.75),(558,1.4),(570,1.4),(574,1.5),
 (627,3.25),(627,2.9),(627,2.7),(631,2.6),(633,2.55),(631,2.2),(625,2.1),(642,2.2),(628,2.05),(638,2.05),(587,1.85),(602,1.9),(584,1.6),(608,1.65),(615,1.7),(621,1.75),(628,1.85),(630,1.7),(640,1.5),(592,1.45),(598,1.4),(612,1.5),(622,1.4),(635,1.55),(604,1.3),(584,1.3),
 (661,6.2),(652,4.35),(653,3.8),(652,3.6),(656,3.65),(652,3.4),(655,3.3),(659,3.25),(668,3.15),(673,3.05),(652,3.0),(653,2.8),(680,2.85),(665,2.65),(672,2.55),(654,2.5),(660,2.45),(668,2.45),(697,2.45),(652,2.25),(657,2.1),(665,2.05),(671,2.0),(702,2.25),(700,2.15),(651,2.0),(685,1.95),(655,1.8),(660,1.7),(694,1.75),(696,1.7),(682,1.7),(704,1.65),(675,1.6),(687,1.45),(665,1.5),(698,1.4),
 (724,2.65),(718,2.15),(733,2.2),(719,1.9),(722,1.75),(735,1.75),(710,1.55),(716,1.45),(740,1.5),(728,1.4),(735,1.35),(745,1.45),(724,1.3),(715,1.25),
 (768,3.95),(767,3.55),(766,3.2),(768,3.0),(767,2.85),(769,2.65),(767,2.5),(766,2.3),(774,2.25),(768,2.1),(772,2.05),(776,2.05),(753,1.85),(765,1.8),(760,1.7),(770,1.65),(778,1.65),(763,1.5),(756,1.4),(775,1.4),
 (783,2.6),(795,2.5),(802,2.85),(802,2.7),(802,2.5),(802,2.3),(784,2.15),(785,2.0),(802,2.0),(798,1.85),(783,1.65),(792,1.65),(795,1.5),(786,1.4),
 (823,1.6),(817,1.5),(825,1.4),(812,1.35),(820,1.3),
 (904,3.95),(895,3.15),(877,2.85),(888,2.75),(896,2.8),(887,2.55),(844,2.65),(889,2.4),(846,2.4),(846,2.2),(838,2.15),(835,2.1),(853,2.05),(857,2.05),(873,2.1),(860,1.9),(873,1.85),(885,1.9),(881,1.95),(895,2.1),(898,2.1),(850,1.8),(845,1.75),(877,1.75),(890,1.7),(870,1.7),(888,1.5),(834,1.6),(842,1.5),(855,1.55),(865,1.55),(896,1.4),(900,1.4),
 (923,2.1),(923,1.7),(909,1.8),(916,1.75),(921,1.45),(908,1.3),(916,1.3),(913,1.25),(922,1.15)]

panels = [
 dict(env=A_env, up=A_up, pts=A_pts, title="Trans-4-Hydroxy-L-Proline", letter="A", left=239, right=1183, top=59, bottom=317, y0=294, unit=26.0,
      ticks=[0,1,2,3,4,5,6,7,8], thr=3.98, title_xy=(424,38), letter_y=36, ylab=(190,187)),
 dict(env=B_env, up=B_up, pts=B_pts, title="Beta-Alanine", letter="B", left=233, right=1185, top=383.5, bottom=630, y0=608.3, unit=32.05,
      ticks=[0,1,2,3,4,5,6], thr=3.97, title_xy=(424,353), letter_y=354, ylab=(183,506)),
 dict(env=C_env, up=C_up, pts=C_pts, title="Citric acid", letter="C", left=241.7, right=1185.3, top=716.7, bottom=975, y0=951, unit=29.3,
      ticks=[0,1,2,3,4,5,6,7], thr=3.93, title_xy=(427,689), letter_y=687, ylab=(192,845)),
 dict(env=D_env, up=D_up, pts=D_pts, title="Cysteine", letter="D", left=234.3, right=1184.3, top=1038.3, bottom=1289.3, y0=1266.7, unit=32.6,
      ticks=[0,1,2,3,4,5,6], thr=3.97, title_xy=(424,1014), letter_y=1012, ylab=(184,1163)),
]

GRAY = "#b5b5b5"
fig = plt.figure(figsize=(W/100, H/100), dpi=100, facecolor="white")
starts = np.array(chrom_starts + [genome_end])
centers = (starts[:-1] + starts[1:]) / 2

for p in panels:
    ax = fig.add_axes([p["left"]/W, 1-p["bottom"]/H, (p["right"]-p["left"])/W, (p["bottom"]-p["top"])/H])
    colors = list(base_colors)
    if p["letter"] == "B":
        colors[17] = "#a9abba"
    ymax = (p["y0"]-p["top"])/p["unit"]
    ymin = (p["y0"]-p["bottom"])/p["unit"]
    base = -2.3/p["unit"]
    rows = list(p["pts"])
    for i, (h, u) in enumerate(zip(p["env"], p["up"])):
        xs = np.linspace(starts[i], starts[i+1], len(h))
        ax.fill_between(xs, base, u, color=colors[i], alpha=0.55, lw=0, step="mid", zorder=1)
        ax.fill_between(xs, base, h, color=colors[i], lw=0, step="mid", zorder=1.5)
        rows += list(zip(xs, u)) + list(zip(xs, h))
    df = pd.DataFrame(rows, columns=["pos", "nlp"])
    df["chrom"] = [chroms[min(np.searchsorted(starts, v, side="right")-1, 19)] for v in df["pos"]]
    sns.scatterplot(data=df, x="pos", y="nlp", hue="chrom", palette=dict(zip(chroms, colors)),
                    s=9, linewidth=0, legend=False, ax=ax, zorder=2)
    ax.axhline(p["thr"], color="#8f8f8f", lw=1.2, dashes=(5.2, 2.6), zorder=3)
    ax.set_xlim(0, 944)
    ax.set_ylim(ymin, ymax)
    ax.set_xticks(centers)
    ax.set_xticklabels(chroms, fontsize=9.5, color="#4a4a4a")
    ax.tick_params(axis="x", length=0, pad=-10.5)
    ax.set_yticks(p["ticks"] + [ymax])
    ax.set_yticklabels([str(t) for t in p["ticks"]] + [""], fontsize=11, color="#2e2e2e")
    ax.tick_params(axis="y", length=7, width=1.2, color=GRAY, pad=2, left=True)
    ax.set_xlabel(""); ax.set_ylabel("")
    for s in ax.spines.values():
        s.set_color(GRAY); s.set_linewidth(1.5); s.set_visible(True)
    fig.text(p["ylab"][0]/W, 1-p["ylab"][1]/H, "NegLog10_ProbTrend", rotation=90,
             ha="center", va="center", fontsize=12.6, color="#333333")
    fig.text(p["title_xy"][0]/W, 1-(p["title_xy"][1]+3)/H, p["title"], fontsize=21.6, fontweight="bold", ha="left", va="center", color="#111111")
    fig.text(247/W, 1-(p["letter_y"]+2)/H, p["letter"], fontsize=14, fontweight="bold", ha="left", va="center", color="#111111")

# Outer box of the figure panel
for xs, ys in [((8,8),(1382,9)), ((8,1356),(9,9)), ((1356,1356),(9,1382))]:
    fig.add_artist(Line2D([x/W for x in xs], [1-y/H for y in ys], color="#555555", lw=1))

# Caption with mixed weights
def caption(runs, x, y):
    rend = fig.canvas.get_renderer()
    for txt, weight, size in runs:
        t = fig.text(x/W, 1-y/H, txt, fontsize=size, fontweight=weight, color="#222222", ha="left", va="baseline")
        x += t.get_window_extent(rend).width

fs = 12.98
caption([("FIGURE 7 | ", "bold", fs), ("Manhattan plots visualizing genome wide associations of SNPs and metabolites (mQTL). ", "normal", fs),
         ("(A) ", "bold", fs), ("Trans-4-hydroxy-", "normal", fs), ("L", "normal", fs*0.78), ("-proline, ", "normal", fs),
         ("(B) ", "bold", fs), ("beta-alanine, ", "normal", fs), ("(C) ", "bold", fs), ("citric acid,", "normal", fs)], 25, 1346)
caption([("and ", "normal", fs), ("(D) ", "bold", fs),
         ("cysteine. The dotted line depicts the genome-wide significance thresholds at negative log 10 > 4.", "normal", fs)], 25, 1371)

fig.savefig("out.png", dpi=100)
